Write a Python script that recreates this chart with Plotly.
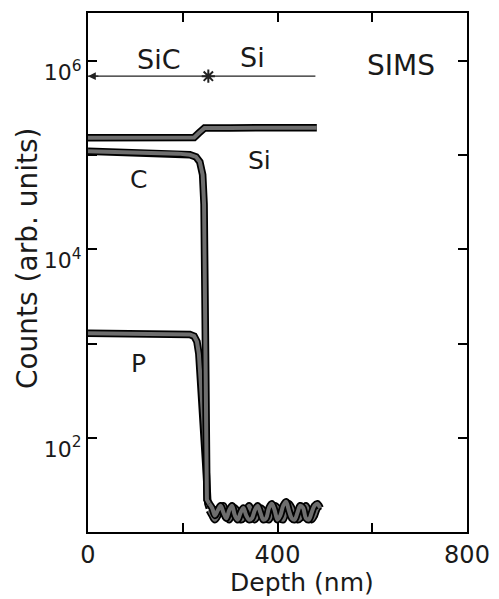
import math
import plotly.graph_objects as go

# ---- data ----
si_depth = [0, 100, 200, 224, 234, 246, 300, 400, 483]
si_counts = [153000, 153000, 154000, 154000, 172000, 195000, 195000, 196000, 196000]

c_depth = [0, 100, 190, 215, 228, 236, 242, 245, 247, 249, 251, 256]
c_counts = [110000, 107000, 104000, 101000, 96000, 85000, 62000, 30000, 3000, 200, 22, 20]

p_depth = [0, 100, 200, 215, 224, 230, 234, 238, 244, 250, 253, 256]
p_counts = [1290, 1280, 1270, 1250, 1200, 1050, 780, 420, 140, 40, 20, 18]

noise_depth = [256, 262, 268, 274, 280, 286, 292, 298, 304, 310, 316, 322, 328, 334,
               340, 346, 352, 358, 364, 370, 376, 382, 388, 394, 400, 406, 412, 418,
               424, 430, 436, 442, 448, 454, 460, 466, 472, 478, 484, 490]
c_noise = [20, 18, 15, 17, 19, 16, 14, 17, 19, 15, 13.5, 16, 18, 15, 13.5, 14, 17, 19, 16, 13.5,
           14, 18, 20, 17, 13.5, 15, 19, 21, 17, 14, 13.5, 16, 19, 18, 14, 13.5, 16, 19, 20, 18]
p_noise = [17, 15, 13.5, 15, 18, 19, 15, 13.5, 16, 18, 16, 13.5, 14, 17, 19, 16, 13.5, 15, 18, 17,
           14, 13.5, 16, 19, 18, 14, 13.5, 17, 20, 18, 15, 13.5, 14, 17, 19, 16, 13.5, 15, 18, 19]

layer_depth = [0, 480]
layer_counts = [690000, 690000]
interface_depth = [254]
interface_counts = [690000]

x_ticks = [0, 200, 400, 600, 800]
x_ticktext = ["0", "", "400", "", "800"]
y_ticks = [1e2, 1e3, 1e4, 1e5, 1e6]
y_ticktext = ["10<sup>2</sup>", "", "10<sup>4</sup>", "", "10<sup>6</sup>"]

FONT = "DejaVu Sans, sans-serif"
INK = "#1a1a1a"

fig = go.Figure()


def thick(x, y, shape="linear"):
    fig.add_trace(go.Scatter(x=x, y=y, mode="lines", showlegend=False, hoverinfo="skip",
                             line=dict(color="black", width=7.5, shape=shape)))
    fig.add_trace(go.Scatter(x=x, y=y, mode="lines", showlegend=False, hoverinfo="skip",
                             line=dict(color="#6e6e6e", width=4, shape=shape)))


thick(si_depth, si_counts)
thick(p_depth, p_counts)
thick(noise_depth, p_noise, "spline")
thick(c_depth, c_counts)
thick(noise_depth, c_noise, "spline")

fig.add_trace(go.Scatter(x=layer_depth, y=layer_counts, mode="lines", showlegend=False,
                         line=dict(color="#222", width=1.3)))
fig.add_trace(go.Scatter(x=interface_depth, y=interface_counts, mode="markers", showlegend=False,
                         marker=dict(symbol="asterisk-open", size=11, color="#222",
                                     line=dict(color="#222", width=2))))

ly = math.log10(layer_counts[0])
fig.add_annotation(x=0, y=ly, ax=25, ay=ly, axref="x", ayref="y", xref="x", yref="y",
                   text="", showarrow=True, arrowhead=2, arrowsize=1.2, arrowwidth=1.3,
                   arrowcolor="#222")

labels = [
    ("SiC", 150, 6.02, 27),
    ("Si", 347, 6.04, 27),
    ("SIMS", 661, 5.95, 28),
    ("C", 106, 4.74, 25),
    ("Si", 361, 4.94, 25),
    ("P", 106, 2.79, 25),
]
for t, x, y, s in labels:
    fig.add_annotation(x=x, y=y, text=t, showarrow=False, xref="x", yref="y",
                       font=dict(family=FONT, size=s, color=INK))

# axis titles placed as paper annotations to match the reference offsets
fig.add_annotation(x=-0.158, y=0.528, xref="paper", yref="paper", text="Counts (arb. units)",
                   xanchor="center", yanchor="middle",
                   textangle=-90, showarrow=False, font=dict(family=FONT, size=28, color=INK))
fig.add_annotation(x=0.565, y=-0.098, xref="paper", yref="paper", text="Depth (nm)",
                   xanchor="center", yanchor="middle",
                   showarrow=False, font=dict(family=FONT, size=25, color=INK))

fig.update_layout(
    width=499, height=599,
    margin=dict(l=88, r=32, t=13, b=67),
    paper_bgcolor="white", plot_bgcolor="white",
    font=dict(family=FONT, size=24, color=INK),
    showlegend=False,
)
fig.update_xaxes(
    range=[0, 800], tickvals=x_ticks, ticktext=x_ticktext,
    ticks="inside", ticklen=9, tickwidth=1.5, tickcolor="black",
    tickfont=dict(size=24), automargin=False, ticklabelstandoff=0,
    showline=True, linewidth=2, linecolor="black", mirror="ticks",
    showgrid=False, zeroline=False,
)
fig.update_yaxes(
    type="log", range=[1, 6.51], tickvals=y_ticks, ticktext=y_ticktext,
    ticks="inside", ticklen=9, tickwidth=1.5, tickcolor="black",
    tickfont=dict(size=22), ticklabelshift=11, ticklabelstandoff=0, automargin=False,
    showline=True, linewidth=2, linecolor="black", mirror="ticks",
    showgrid=False, zeroline=False,
)

fig.write_html("out.html")
